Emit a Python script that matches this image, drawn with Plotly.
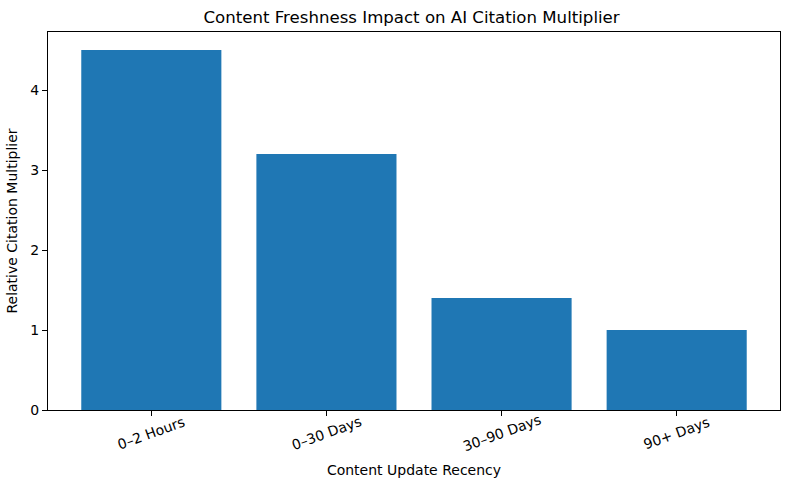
import plotly.graph_objects as go

# Werte
categories = ["0–2 Hours", "0–30 Days", "30–90 Days", "90+ Days"]
multiplier = [4.5, 3.2, 1.4, 1.0]
positions = list(range(len(categories)))

fig = go.Figure()
fig.add_trace(go.Bar(
    x=positions, y=multiplier,
    width=0.8, marker=dict(color="#1f77b4", line=dict(width=0)),
))

# gedrehte Achsenbeschriftungen, mittig unter dem Tick (wie matplotlib rotation=20)
for pos, label in zip(positions, categories):
    fig.add_annotation(x=pos, xref="x", y=0, yref="paper", text=label,
                       showarrow=False, textangle=-20, xanchor="center",
                       yanchor="middle", yshift=-23, font=dict(size=14))

fig.update_layout(
    width=790, height=490,
    margin=dict(l=48, r=10, t=32, b=80),
    paper_bgcolor="white", plot_bgcolor="white",
    font=dict(family="DejaVu Sans", size=14, color="black"),
    showlegend=False,
    title=dict(text="Content Freshness Impact on AI Citation Multiplier",
               x=0.521, xanchor="center", y=0.965, yanchor="middle",
               font=dict(size=16.6)),
)
fig.update_xaxes(
    range=[-0.59, 3.59], tickmode="array", tickvals=positions,
    showticklabels=False, automargin=False,
    ticks="outside", ticklen=5, tickcolor="black",
    showline=True, linecolor="black", linewidth=1, mirror=True,
    showgrid=False, zeroline=False,
    title=dict(text="Content Update Recency", font=dict(size=14), standoff=50),
)
fig.update_yaxes(
    range=[0, 4.725], dtick=1, automargin=False,
    ticks="outside", ticklen=5, tickcolor="black",
    showline=True, linecolor="black", linewidth=1, mirror=True,
    showgrid=False, zeroline=False,
    title=dict(text="Relative Citation Multiplier", font=dict(size=14), standoff=9),
)

# Standard-Rand des <body> entfernen, damit die Figur bei (0,0) beginnt
fig.write_html("out.html", config={"displayModeBar": False},
               post_script="document.body.style.margin='0';")
